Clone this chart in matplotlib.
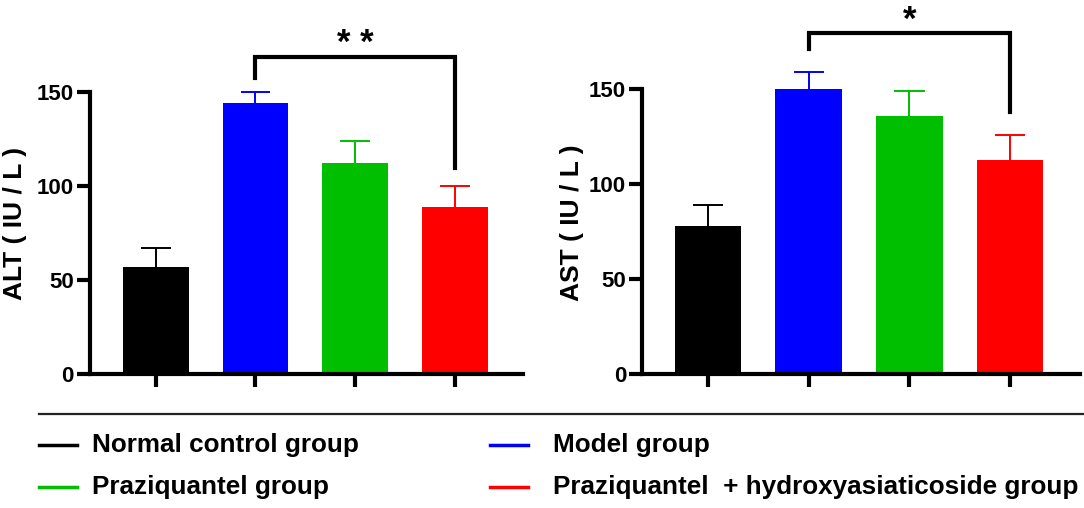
import matplotlib.pyplot as plt

plt.rcParams['font.family'] = ['Liberation Sans', 'DejaVu Sans']
plt.rcParams['font.weight'] = 'bold'

groups = ['Normal control group', 'Model group', 'Praziquantel group',
          'Praziquantel  + hydroxyasiaticoside group']
colors = ['#000000', '#0000ff', '#00bf00', '#ff0000']

alt_mean = [57, 144, 112, 89]
alt_err = [10, 6, 12, 11]
ast_mean = [78, 150, 136, 113]
ast_err = [11, 9, 13, 13]

# significance brackets: (from, to, top, left leg end, right leg end, label)
alt_sig = (1, 3, 168.5, 157.5, 109.5, '* *')
ast_sig = (1, 3, 179.5, 171.5, 138, '*')

fig = plt.figure(figsize=(10.84, 5.08), dpi=100)
ax1 = fig.add_axes([0.0830, 0.2638, 0.3995, 0.7217])
ax2 = fig.add_axes([0.5923, 0.2638, 0.4041, 0.7285])


def draw_panel(ax, means, errs, sig, ylabel, xlim):
    x = list(range(len(means)))
    ax.bar(x, means, width=0.66, color=colors, zorder=2)
    # upper error bars only
    tops = [m + e for m, e in zip(means, errs)]
    ax.vlines(x, means, tops, colors=colors, lw=1.4, zorder=1)
    ax.hlines(tops, [xi - 0.15 for xi in x], [xi + 0.15 for xi in x],
              colors=colors, lw=1.4, zorder=1)
    a, b, top, ya, yb, label = sig
    ax.plot([a, a, b, b], [ya, top, top, yb], color='black', lw=3,
            solid_joinstyle='miter', clip_on=False)
    ax.text((a + b) / 2, top + 2, label, ha='center', va='baseline',
            fontsize=25, fontweight='bold')
    ax.set_xlim(*xlim)
    ax.set_ylim(0, 195)
    ax.set_yticks([0, 50, 100, 150])
    ax.set_xticks(x)
    ax.set_xticklabels([])
    for s in ['top', 'right']:
        ax.spines[s].set_visible(False)
    for s in ['left', 'bottom']:
        ax.spines[s].set_linewidth(3)
    ax.spines['left'].set_bounds(0, 150)
    ax.tick_params(width=3, length=9.5, labelsize=16, pad=2)
    ax.set_ylabel(ylabel, fontsize=19, fontweight='bold')


draw_panel(ax1, alt_mean, alt_err, alt_sig, 'ALT ( IU / L )', (-0.658, 3.68))
draw_panel(ax2, ast_mean, ast_err, ast_sig, 'AST ( IU / L )', (-0.655, 3.695))
ax1.yaxis.set_label_coords(-0.146, 0.41)
ax2.yaxis.set_label_coords(-0.133, 0.41)

# legend area below the panels
leg = fig.add_axes([0, 0, 1, 1], zorder=-1)
leg.set_xlim(0, 1084)
leg.set_ylim(508, 0)
leg.axis('off')
leg.plot([39, 1084], [414, 414], color='#222222', lw=1.6)
slots = [(39, 92, 445), (490, 553, 445), (39, 92, 487), (490, 553, 487)]
for (lx, tx, ly), name, c in zip(slots, groups, colors):
    leg.plot([lx, lx + 38], [ly, ly], color=c, lw=2.5)
    leg.text(tx, ly, name, fontsize=18.8, fontweight='bold',
             va='center', ha='left')

fig.savefig('out.png', dpi=100)
